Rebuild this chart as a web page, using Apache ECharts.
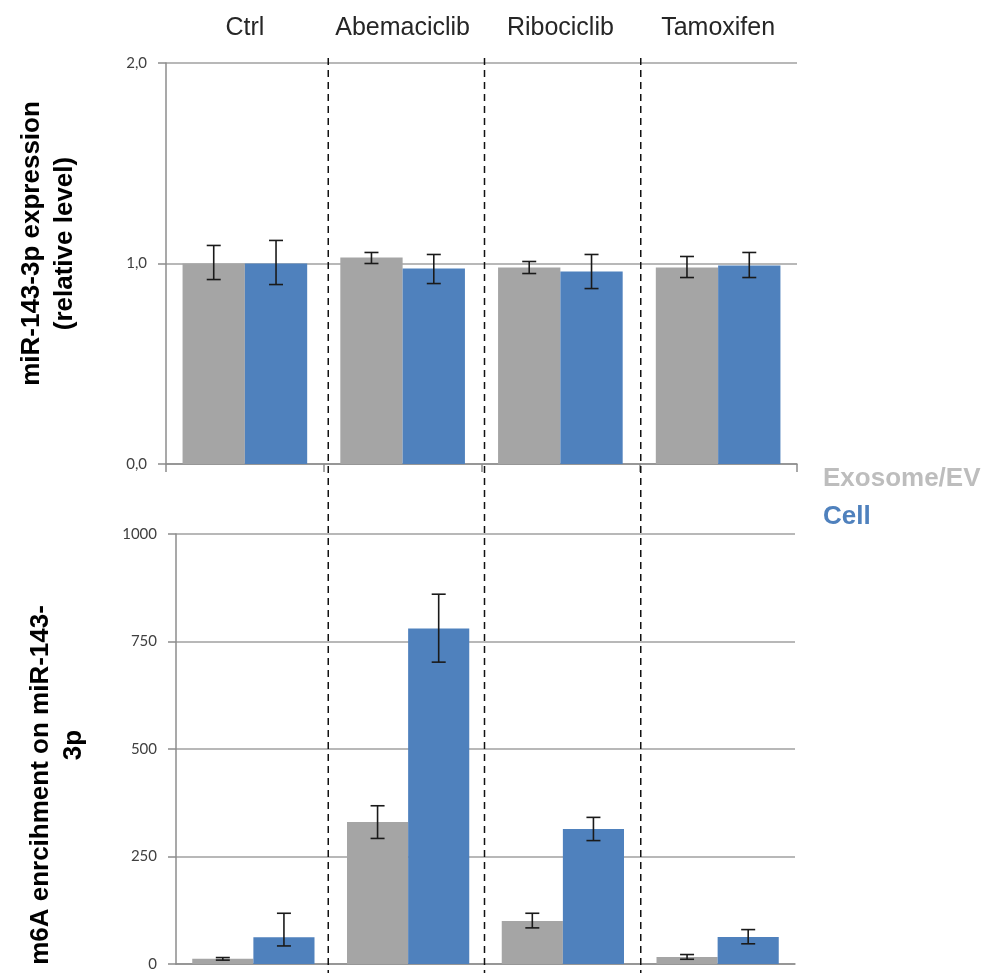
<!DOCTYPE html>
<html>
<head>
<meta charset="utf-8">
<script src="https://cdn.jsdelivr.net/npm/echarts@6/dist/echarts.min.js"></script>
<style>
  html, body { margin: 0; padding: 0; background: #fff; }
  #chart { width: 989px; height: 973px; }
</style>
</head>
<body>
<div id="chart"></div>
<script>
// categories
var categories = ["Ctrl", "Abemaciclib", "Ribociclib", "Tamoxifen"];

// top panel: miR-143-3p expression (relative level)
var exprEV = [1.00, 1.03, 0.98, 0.98];
var exprEVLow = [0.92, 1.00, 0.95, 0.93];
var exprEVHigh = [1.09, 1.055, 1.01, 1.035];
var exprCell = [1.00, 0.975, 0.96, 0.99];
var exprCellLow = [0.895, 0.90, 0.875, 0.93];
var exprCellHigh = [1.115, 1.045, 1.045, 1.055];

// bottom panel: m6A enrichment on miR-143-3p
var m6aEV = [12, 330, 100, 16];
var m6aEVLow = [9, 292, 84, 11];
var m6aEVHigh = [15, 368, 118, 22];
var m6aCell = [62, 780, 314, 63];
var m6aCellLow = [42, 702, 287, 47];
var m6aCellHigh = [118, 860, 341, 80];

var topTicks = [0, 1, 2];
var bottomTicks = [0, 250, 500, 750, 1000];

var GRAY = "#a5a5a5";
var BLUE = "#4f81bd";
var CAT_GAP = 0.21;
var FONT = "'Liberation Sans', Arial, sans-serif";

function errData(lo, hi) {
  return lo.map(function (v, i) { return [i, v, hi[i]]; });
}

// error bar drawn at the middle of the left (-1) or right (+1) bar
function errRender(side) {
  return function (params, api) {
    var i = api.value(0);
    var lo = api.coord([i, api.value(1)]);
    var hi = api.coord([i, api.value(2)]);
    var band = api.size([1, 0])[0];
    var barW = band * (1 - CAT_GAP) / 2;
    var x = lo[0] + side * barW / 2;
    var cap = 7;
    var st = { stroke: "#1a1a1a", lineWidth: 1.6 };
    return {
      type: "group",
      children: [
        { type: "line", shape: { x1: x, y1: lo[1], x2: x, y2: hi[1] }, style: st },
        { type: "line", shape: { x1: x - cap, y1: lo[1], x2: x + cap, y2: lo[1] }, style: st },
        { type: "line", shape: { x1: x - cap, y1: hi[1], x2: x + cap, y2: hi[1] }, style: st }
      ]
    };
  };
}

var titleFont = { fontSize: 26, fontWeight: "bold", color: "#000", fontFamily: FONT, lineHeight: 33 };
var yLabel = { color: "#404040", fontSize: 15, fontFamily: "Lato, sans-serif", margin: 19 };
var splitGray = { show: true, lineStyle: { color: "#a0a0a0", width: 1.5 } };
var axisGray = { show: true, lineStyle: { color: "#8c8c8c", width: 1.5 } };
var tickGray = { show: true, length: 8, lineStyle: { color: "#8c8c8c", width: 1.5 } };

var chart = echarts.init(document.getElementById("chart"));

var option = {
  animation: false,
  backgroundColor: "#fff",
  legend: {
    orient: "vertical",
    left: 813,
    top: 461,
    itemWidth: 0,
    itemHeight: 0,
    itemGap: 12,
    icon: "rect",
    selectedMode: false,
    textStyle: { fontSize: 26, fontWeight: "bold", fontFamily: FONT },
    data: [
      { name: "Exosome/EV", textStyle: { color: "#bdbdbd" } },
      { name: "Cell", textStyle: { color: BLUE } }
    ]
  },
  grid: [
    { left: 166, top: 63, width: 631, height: 401, containLabel: false, outerBoundsMode: "none" },
    { left: 176, top: 534, width: 619, height: 430, containLabel: false, outerBoundsMode: "none" }
  ],
  xAxis: [
    {
      type: "category", gridIndex: 0, data: categories, position: "bottom",
      axisLine: axisGray, axisTick: tickGray,
      axisLabel: { show: false }
    },
    {
      type: "category", gridIndex: 0, data: categories, position: "top",
      axisLine: { show: false }, axisTick: { show: false },
      axisLabel: { interval: 0, color: "#262626", fontSize: 25, fontFamily: FONT, margin: 22 }
    },
    {
      type: "category", gridIndex: 1, data: categories, position: "bottom",
      axisLine: axisGray, axisTick: { show: false }, axisLabel: { show: false }
    }
  ],
  yAxis: [
    {
      type: "value", gridIndex: 0, min: 0, max: 2, interval: 1,
      axisLine: axisGray, axisTick: tickGray, splitLine: splitGray,
      axisLabel: Object.assign({}, yLabel, {
        formatter: function (v) { return v.toFixed(1).replace(".", ","); }
      }),
      name: "miR-143-3p expression\n(relative level)",
      nameLocation: "middle",
      nameRotate: 90,
      nameGap: 85,
      nameMoveOverlap: false,
      nameTextStyle: Object.assign({}, titleFont, { padding: [0, 0, 0, 40] })
    },
    {
      type: "value", gridIndex: 1, min: 0, max: 1000, interval: 250,
      axisLine: axisGray, axisTick: tickGray, splitLine: splitGray,
      axisLabel: Object.assign({}, yLabel, {
        formatter: function (v) { return String(v); }
      }),
      name: "{a|m6A enrcihment on miR-143-}\n{b|3p}",
      nameLocation: "middle",
      nameRotate: 90,
      nameGap: 86,
      nameMoveOverlap: false,
      nameTextStyle: Object.assign({}, titleFont, {
        rich: {
          a: Object.assign({}, titleFont, { padding: [0, 72, 0, 0] }),
          b: Object.assign({}, titleFont, { padding: [0, 0, 0, 8] })
        }
      })
    }
  ],
  series: [
    {
      name: "Exosome/EV", type: "bar", xAxisIndex: 0, yAxisIndex: 0,
      data: exprEV, barGap: "0%", barCategoryGap: "21%",
      itemStyle: { color: GRAY }
    },
    {
      name: "Cell", type: "bar", xAxisIndex: 0, yAxisIndex: 0,
      data: exprCell, barGap: "0%", barCategoryGap: "21%",
      itemStyle: { color: BLUE }
    },
    {
      name: "Exosome/EV", type: "bar", xAxisIndex: 2, yAxisIndex: 1,
      data: m6aEV, barGap: "0%", barCategoryGap: "21%",
      itemStyle: { color: GRAY }
    },
    {
      name: "Cell", type: "bar", xAxisIndex: 2, yAxisIndex: 1,
      data: m6aCell, barGap: "0%", barCategoryGap: "21%",
      itemStyle: { color: BLUE }
    },
    {
      name: "errEVTop", type: "custom", xAxisIndex: 0, yAxisIndex: 0, z: 5,
      renderItem: errRender(-1), encode: { x: 0, y: [1, 2] },
      data: errData(exprEVLow, exprEVHigh)
    },
    {
      name: "errCellTop", type: "custom", xAxisIndex: 0, yAxisIndex: 0, z: 5,
      renderItem: errRender(1), encode: { x: 0, y: [1, 2] },
      data: errData(exprCellLow, exprCellHigh)
    },
    {
      name: "errEVBottom", type: "custom", xAxisIndex: 2, yAxisIndex: 1, z: 5,
      renderItem: errRender(-1), encode: { x: 0, y: [1, 2] },
      data: errData(m6aEVLow, m6aEVHigh)
    },
    {
      name: "errCellBottom", type: "custom", xAxisIndex: 2, yAxisIndex: 1, z: 5,
      renderItem: errRender(1), encode: { x: 0, y: [1, 2] },
      data: errData(m6aCellLow, m6aCellHigh)
    }
  ]
};

chart.setOption(option);

// dashed separators between the treatment groups, spanning both panels
var seps = [];
for (var i = 0; i < categories.length - 1; i++) {
  var t = (chart.convertToPixel({ xAxisIndex: 0 }, i) + chart.convertToPixel({ xAxisIndex: 0 }, i + 1)) / 2;
  var b = (chart.convertToPixel({ xAxisIndex: 2 }, i) + chart.convertToPixel({ xAxisIndex: 2 }, i + 1)) / 2;
  var x = (t + b) / 2 + 1;
  var yTop = chart.convertToPixel({ yAxisIndex: 0 }, topTicks[topTicks.length - 1]) - 5;
  seps.push({
    type: "line", z: 10,
    shape: { x1: x, y1: yTop, x2: x, y2: 973 },
    style: { stroke: "#111", lineWidth: 1.5, lineDash: [7, 5] }
  });
}
chart.setOption({ graphic: seps });
</script>
</body>
</html>
